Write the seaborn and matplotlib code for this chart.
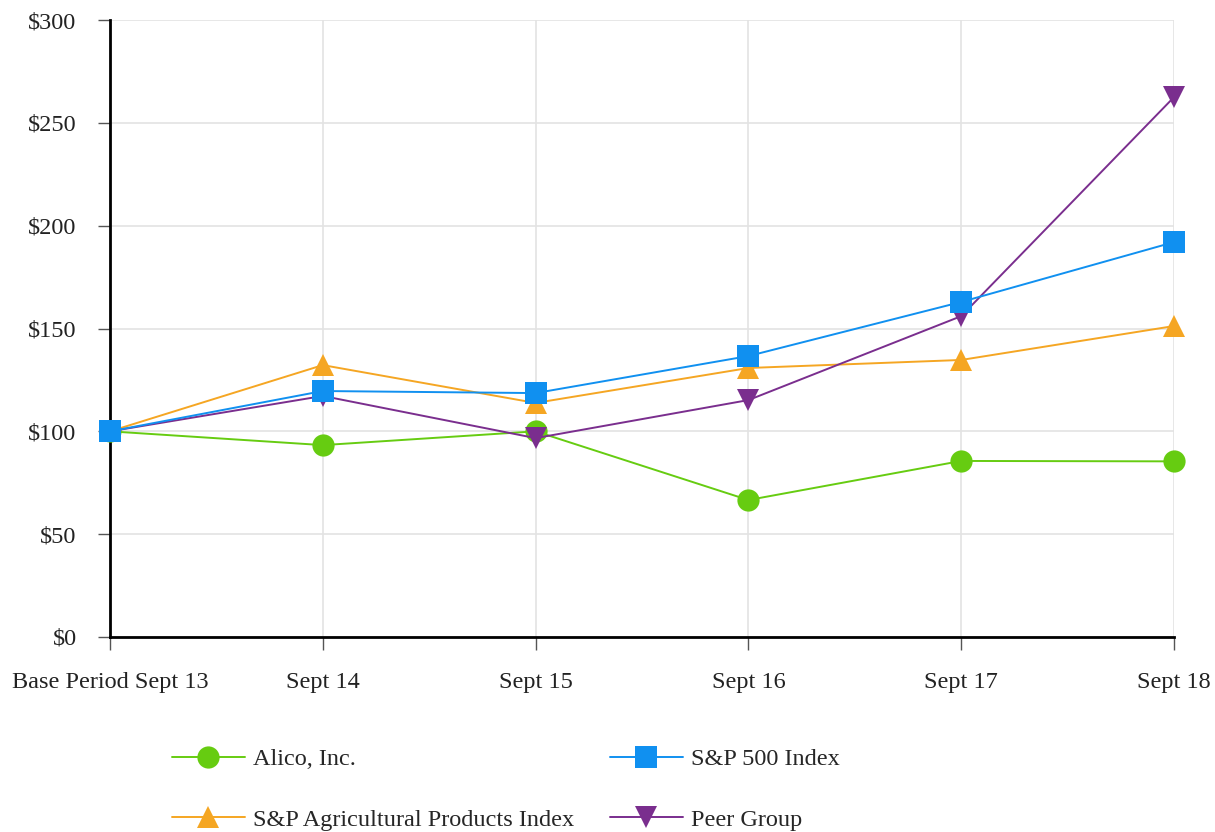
import matplotlib
matplotlib.use("Agg")
import matplotlib.pyplot as plt
import seaborn as sns
import pandas as pd
from matplotlib.lines import Line2D

periods = ["Base Period Sept 13", "Sept 14", "Sept 15", "Sept 16", "Sept 17", "Sept 18"]
alico = [100, 93.3, 100, 66.6, 85.6, 85.4]
sp500 = [100, 119.6, 118.6, 136.6, 162.9, 192.0]
sp_ag = [100, 132.2, 113.8, 130.8, 134.7, 151.2]
peer = [100, 117.2, 96.7, 115.2, 156.0, 262.5]
series_names = ["Alico, Inc.", "S&P 500 Index", "S&P Agricultural Products Index", "Peer Group"]
yticks = [0, 50, 100, 150, 200, 250, 300]

colors = {"Alico, Inc.": "#66CC11", "S&P 500 Index": "#1090F0",
          "S&P Agricultural Products Index": "#F5A623", "Peer Group": "#7A2E8E"}
markers = {"Alico, Inc.": "o", "S&P 500 Index": "s",
           "S&P Agricultural Products Index": "^", "Peer Group": "v"}
msizes = {"Alico, Inc.": 16, "S&P 500 Index": 15.5,
          "S&P Agricultural Products Index": 16.5, "Peer Group": 16.5}

rows = []
for name, vals in zip(series_names, [alico, sp500, sp_ag, peer]):
    for i, v in enumerate(vals):
        rows.append({"x": i, "value": v, "series": name})
df = pd.DataFrame(rows)

sns.set_theme(style="white")
plt.rcParams['font.family'] = ['Liberation Serif', 'DejaVu Serif']

fig = plt.figure(figsize=(12.15, 8.32), dpi=100)
ax = fig.add_axes([110/1215, 1-637/832, (1174-110)/1215, (637-20)/832])

order = ["Alico, Inc.", "S&P Agricultural Products Index", "Peer Group", "S&P 500 Index"]
for k, name in enumerate(order):
    sub = df[df.series == name]
    sns.lineplot(data=sub, x="x", y="value", ax=ax, color=colors[name],
                 marker=markers[name], markersize=msizes[name], markeredgewidth=0,
                 linewidth=1.4, zorder=3+k, legend=False)
for ln in ax.lines:
    ln.set_clip_on(False)

ax.set_xlim(0, 5)
ax.set_ylim(0, 300)
ax.set_xticks(range(len(periods)))
ax.set_xticklabels(periods)
ax.set_yticks(yticks)
ax.set_yticklabels(["\\$" + str(v) for v in yticks])
ax.set_xlabel("")
ax.set_ylabel("")
ax.grid(True, color="#E3E3E3", linewidth=1.2)
ax.set_axisbelow(True)
for s in ["top", "right"]:
    ax.spines[s].set_visible(False)
for s in ["left", "bottom"]:
    ax.spines[s].set_color("black")
    ax.spines[s].set_linewidth(2)
    ax.spines[s].set_zorder(2.5)
ax.tick_params(axis="both", which="both", direction="out", length=9, width=1,
               color="#555555", labelsize=17.5, labelcolor="#222222", pad=15,
               bottom=True, left=True)
ax.tick_params(axis="x", pad=16)

leg_order = ["Alico, Inc.", "S&P Agricultural Products Index", "S&P 500 Index", "Peer Group"]
handles = [Line2D([], [], color=colors[n], marker=markers[n], markersize=msizes[n],
                  markeredgewidth=0, linewidth=1.4) for n in leg_order]
fig.legend(handles, leg_order, loc="upper left", bbox_to_anchor=(172/1215, 1-748/832),
           ncol=2, frameon=False, fontsize=17.5, handlelength=3.0, handletextpad=0.35,
           columnspacing=1.45, labelspacing=1.6, borderpad=0, borderaxespad=0)

fig.savefig("out.png", dpi=100)
